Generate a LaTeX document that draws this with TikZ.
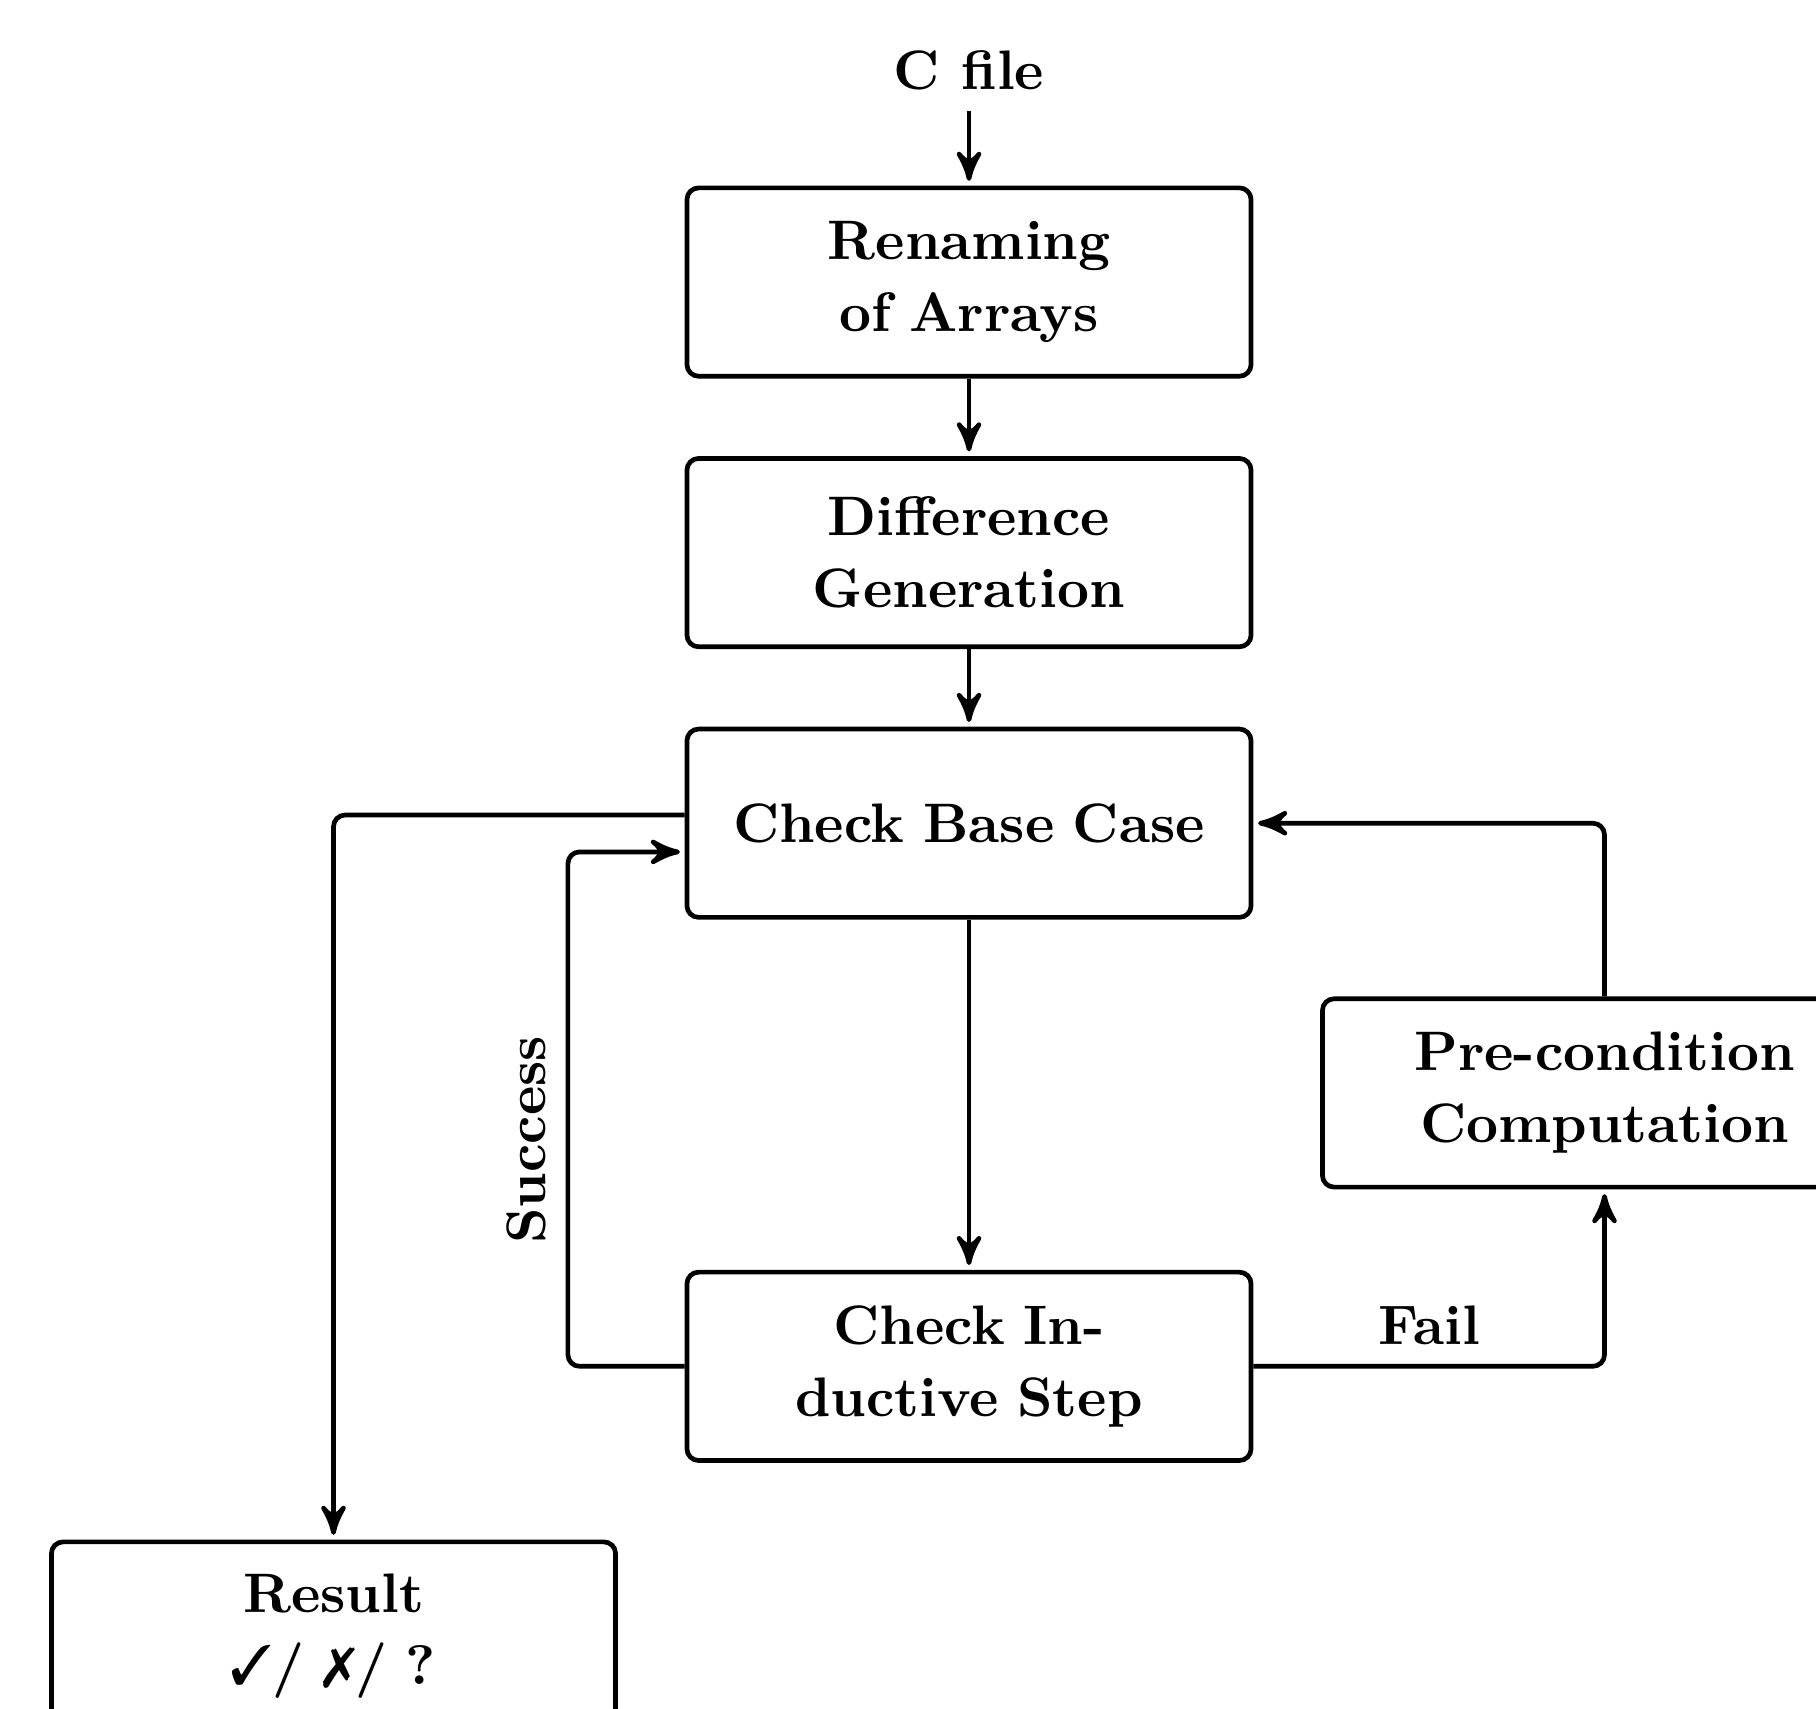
\documentclass[tikz,border=0pt]{standalone}
\usepackage{pifont}
\usetikzlibrary{arrows,positioning}

\newcommand\diagfont{\fontsize{9.5}{12.3}\selectfont\bfseries}

\begin{document}
\begin{tikzpicture}[
    every node/.style={font=\diagfont},
    box/.style={draw,thick,rounded corners=2pt,text width=3.15cm,align=center,minimum height=1.13cm},
    line/.style={draw,thick,rounded corners=2pt,-stealth',shorten >=0.8pt}
  ]
  \useasboundingbox (0,0) rectangle (10.894,-10.252);
  \node[box] (rename) at (5.813,-1.692) {Renaming of Arrays};
  \node[above=0.45cm of rename] (cfile) {C file};
  \node[box,below=0.465cm of rename] (diff) {Difference Generation};
  \node[box,below=0.465cm of diff] (base) {Check Base Case};
  \node[box,below=2.1cm of base] (ind) {Check In-\\ductive Step};
  \node[box,below right=0.46cm and 0.4cm of base] (pre) {Pre-condition Computation};
  \node[box,below left=0.46cm and 0.4cm of ind] (result) {Result\\ \ding{51}/ \ding{55}/ ?};

  \path[line] (cfile) -- (rename);
  \path[line] (rename) -- (diff);
  \path[line] (diff) -- (base);
  \path[line] (base) -- (ind);
  \path[line] ([yshift=1.4pt]base.west) -| (result.north);
  \path[line] (ind.west) -- ++(-0.7,0) |- node[pos=0.22,above,rotate=90] {Success} ([yshift=-4.9pt]base.west);
  \path[line] (ind.east) -| node[pos=0.25,above] {Fail} (pre.south);
  \path[line] (pre.north) |- (base.east);
\end{tikzpicture}
\end{document}
